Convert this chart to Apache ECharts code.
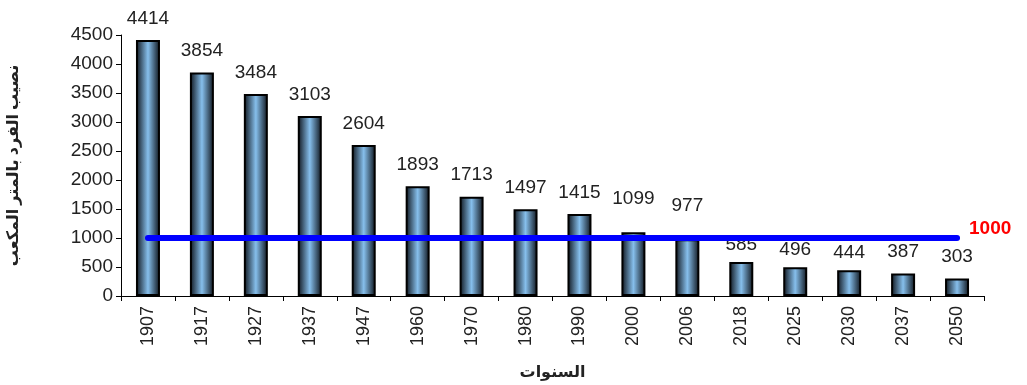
<!DOCTYPE html>
<html>
<head>
<meta charset="utf-8">
<script src="https://cdn.jsdelivr.net/npm/echarts@6/dist/echarts.min.js"></script>
<style>
	html, body { margin: 0; padding: 0; background: #fff; }
	#chart { width: 1027px; height: 385px; }
</style>
</head>
<body>
<div id="chart"></div>
<script>
	'use strict';
	// years on the x axis
	var years = ['1907', '1917', '1927', '1937', '1947', '1960', '1970', '1980', '1990',
		'2000', '2006', '2018', '2025', '2030', '2037', '2050'];
	// per-capita water share, m3
	var shares = [4414, 3854, 3484, 3103, 2604, 1893, 1713, 1497, 1415, 1099, 977, 585, 496, 444, 387, 303];
	// poverty threshold line
	var threshold = years.map(function () { return 1000; });

	var chart = echarts.init(document.getElementById('chart'));
	var font = 'Liberation Sans, Arial, sans-serif';
	var arabicFont = 'Noto Sans, DejaVu Sans, sans-serif';

	// labels of the bars under the blue line are lifted above it
	var barData = shares.map(function (v, i) {
		var item = { value: v };
		if (years[i] === '2000' || years[i] === '2006') {
			item.label = { offset: [0, -12] };
		} else if (v < 1000 && v > 400) {
			item.label = { offset: [0, 4] };
		}
		return item;
	});

	var option = {
		animation: false,
		grid: { left: 121, right: 43, top: 35, bottom: 89, containLabel: false, outerBoundsMode: 'none' },
		xAxis: {
			type: 'category',
			data: years,
			name: 'السنوات',
			nameLocation: 'middle',
			nameGap: 68,
			nameTextStyle: { fontFamily: arabicFont, fontSize: 16, fontWeight: 'bold', color: '#222' },
			axisLine: { lineStyle: { color: '#000', width: 1 } },
			axisTick: { show: true, length: 5, lineStyle: { color: '#000' } },
			axisLabel: { rotate: 90, fontFamily: font, fontSize: 18, color: '#222', margin: 10 }
		},
		yAxis: {
			type: 'value',
			min: 0,
			max: 4500,
			interval: 500,
			name: 'نصيب الفرد بالمتر المكعب',
			nameLocation: 'middle',
			nameGap: 100,
			nameTextStyle: { fontFamily: arabicFont, fontSize: 16, fontWeight: 'bold', color: '#222' },
			axisLine: { show: true, lineStyle: { color: '#000', width: 1 } },
			axisTick: { show: true, inside: false, length: 5, lineStyle: { color: '#000' } },
			splitLine: { show: false },
			axisLabel: {
				fontFamily: font,
				fontSize: 19,
				color: '#222',
				margin: 8,
				formatter: function (v) { return String(v); }
			}
		},
		series: [
			{
				type: 'bar',
				data: barData,
				barWidth: 24,
				itemStyle: {
					borderColor: '#000',
					borderWidth: 2,
					color: {
						type: 'linear', x: 0, y: 0, x2: 1, y2: 0,
						colorStops: [
							{ offset: 0, color: '#0c1118' },
							{ offset: 0.5, color: '#86bfec' },
							{ offset: 1, color: '#0c1118' }
						]
					}
				},
				label: {
					show: true,
					position: 'top',
					distance: 12,
					fontFamily: font,
					fontSize: 19,
					color: '#222'
				},
				z: 2
			},
			{
				type: 'line',
				data: threshold,
				symbol: 'none',
				lineStyle: { color: '#0000ff', width: 6, cap: 'round' },
				endLabel: {
					show: true,
					formatter: '1000',
					fontFamily: font,
					fontSize: 19,
					fontWeight: 'bold',
					color: '#ff0000',
					distance: 12,
					offset: [0, -9]
				},
				z: 3
			}
		]
	};

	chart.setOption(option);
</script>
</body>
</html>
